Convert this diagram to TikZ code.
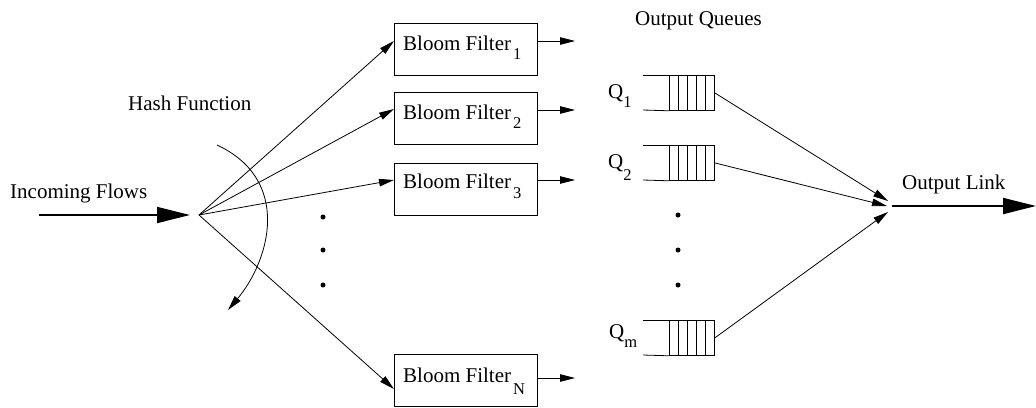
\documentclass[tikz,border=0pt]{standalone}
\usepackage{fontspec}
\setmainfont{Liberation Serif}
\usetikzlibrary{arrows.meta}
% lowered subscript in a smaller size: optional drop, kern, then the text
\newcommand\lowsub[3][9.5]{\kern#2pt\raisebox{-#1pt}{\fontsize{16.5}{16.5}\selectfont #3}}
\begin{document}
\begin{tikzpicture}[x=1pt,y=-1pt,
  lbl/.style={inner sep=0pt, anchor=base west, font=\fontsize{21}{21}\selectfont},
  filterbox/.style={draw, line width=0.9pt, minimum width=143pt, minimum height=52pt, inner sep=0pt, anchor=north west},
  thinline/.style={line width=0.8pt},
  sarrow/.style={thinline, -{Triangle[length=15pt,width=7.5pt]}},
  barrow/.style={line width=1.8pt, -{Triangle[length=33pt,width=16pt]}},
  dotmark/.style={circle, fill, inner sep=0pt, minimum size=5pt},
  queueblock/.style={draw, line width=0.8pt, minimum width=45pt, minimum height=35pt, inner sep=0pt, anchor=north west}
]
\useasboundingbox (0,0) rectangle (1036,407);

% ---- labels ----
\node[lbl] (hashlbl) at (128,110) {Hash Function};
\node[lbl] (inlbl) at (10,198) {Incoming Flows};
\node[lbl] (oqlbl) at (635,25) {Output Queues};
\node[lbl] (ollbl) at (902,189) {Output Link};

% ---- incoming flow and hash point ----
\coordinate (src) at (39,215);
\coordinate (hin) at (190,215);
\coordinate (h) at (199,215);
\draw[barrow] (src) -- (hin);

% ---- bloom filters ----
\node[filterbox] (b1) at (394,23) {};
\node[filterbox] (b2) at (394,92) {};
\node[filterbox] (b3) at (394,163) {};
\node[filterbox] (bN) at (394,354) {};
\node[lbl] (t1) at (403,50) {Bloom Filter\lowsub{2}{1}};
\node[lbl] (t2) at (403,119) {Bloom Filter\lowsub{2}{2}};
\node[lbl] (t3) at (403,188) {Bloom Filter\lowsub[10]{2}{3}};
\node[lbl] (tN) at (403,382) {Bloom Filter\lowsub[12]{2}{N}};

% entry and exit points on the filter boxes
\coordinate (e1) at (394,41);  \coordinate (x1) at (537,41);  \coordinate (f1) at (575,41);
\coordinate (e2) at (394,109); \coordinate (x2) at (537,110); \coordinate (f2) at (575,110);
\coordinate (e3) at (394,180); \coordinate (x3) at (537,180); \coordinate (f3) at (575,180);
\coordinate (eN) at (394,389); \coordinate (xN) at (537,378); \coordinate (fN) at (575,378);

\foreach \k in {1,2,3,N}{
  \draw[sarrow] (h) -- (e\k);
  \draw[sarrow] (x\k) -- (f\k);
}

% hash rotation arc
\coordinate (arcA) at (217,145);
\coordinate (arcB) at (228,310);
\draw[sarrow] (arcA) .. controls (292,180) and (270,260) .. (arcB);

% dots between filters
\node[dotmark] (d1) at (323,217) {};
\node[dotmark] (d2) at (323,250) {};
\node[dotmark] (d3) at (323,285) {};

% ---- output queues ----
\foreach \q/\y in {1/75, 2/145, m/320}{
  \node[queueblock] (q\q) at (669,\y) {};
  \draw[thinline] (643,\y) -- (q\q.north west);
  \draw[thinline] (643,\y+35) -- (q\q.south west);
  \foreach \cx in {678,687,696,705}
    \draw[thinline] (\cx,\y) -- (\cx,\y+35);
}
\node[lbl] (ql1) at (608,98) {Q\lowsub{0}{1}};
\node[lbl] (ql2) at (608,168) {Q\lowsub[12]{0}{2}};
\node[lbl] (qlm) at (609,338) {Q\lowsub{0}{m}};

% dots between queues
\node[dotmark] (d4) at (678,215) {};
\node[dotmark] (d5) at (678,250) {};
\node[dotmark] (d6) at (678,285) {};

% ---- output link ----
\coordinate (o) at (892,206);
\coordinate (o1) at (888,201);
\coordinate (o2) at (887,206);
\coordinate (om) at (888,212);
\coordinate (out) at (1036,206);
\draw[sarrow] (q1.east) -- (o1);
\draw[sarrow] (q2.east) -- (o2);
\draw[sarrow] (qm.east) -- (om);
\draw[barrow] (o) -- (out);
\end{tikzpicture}
\end{document}
